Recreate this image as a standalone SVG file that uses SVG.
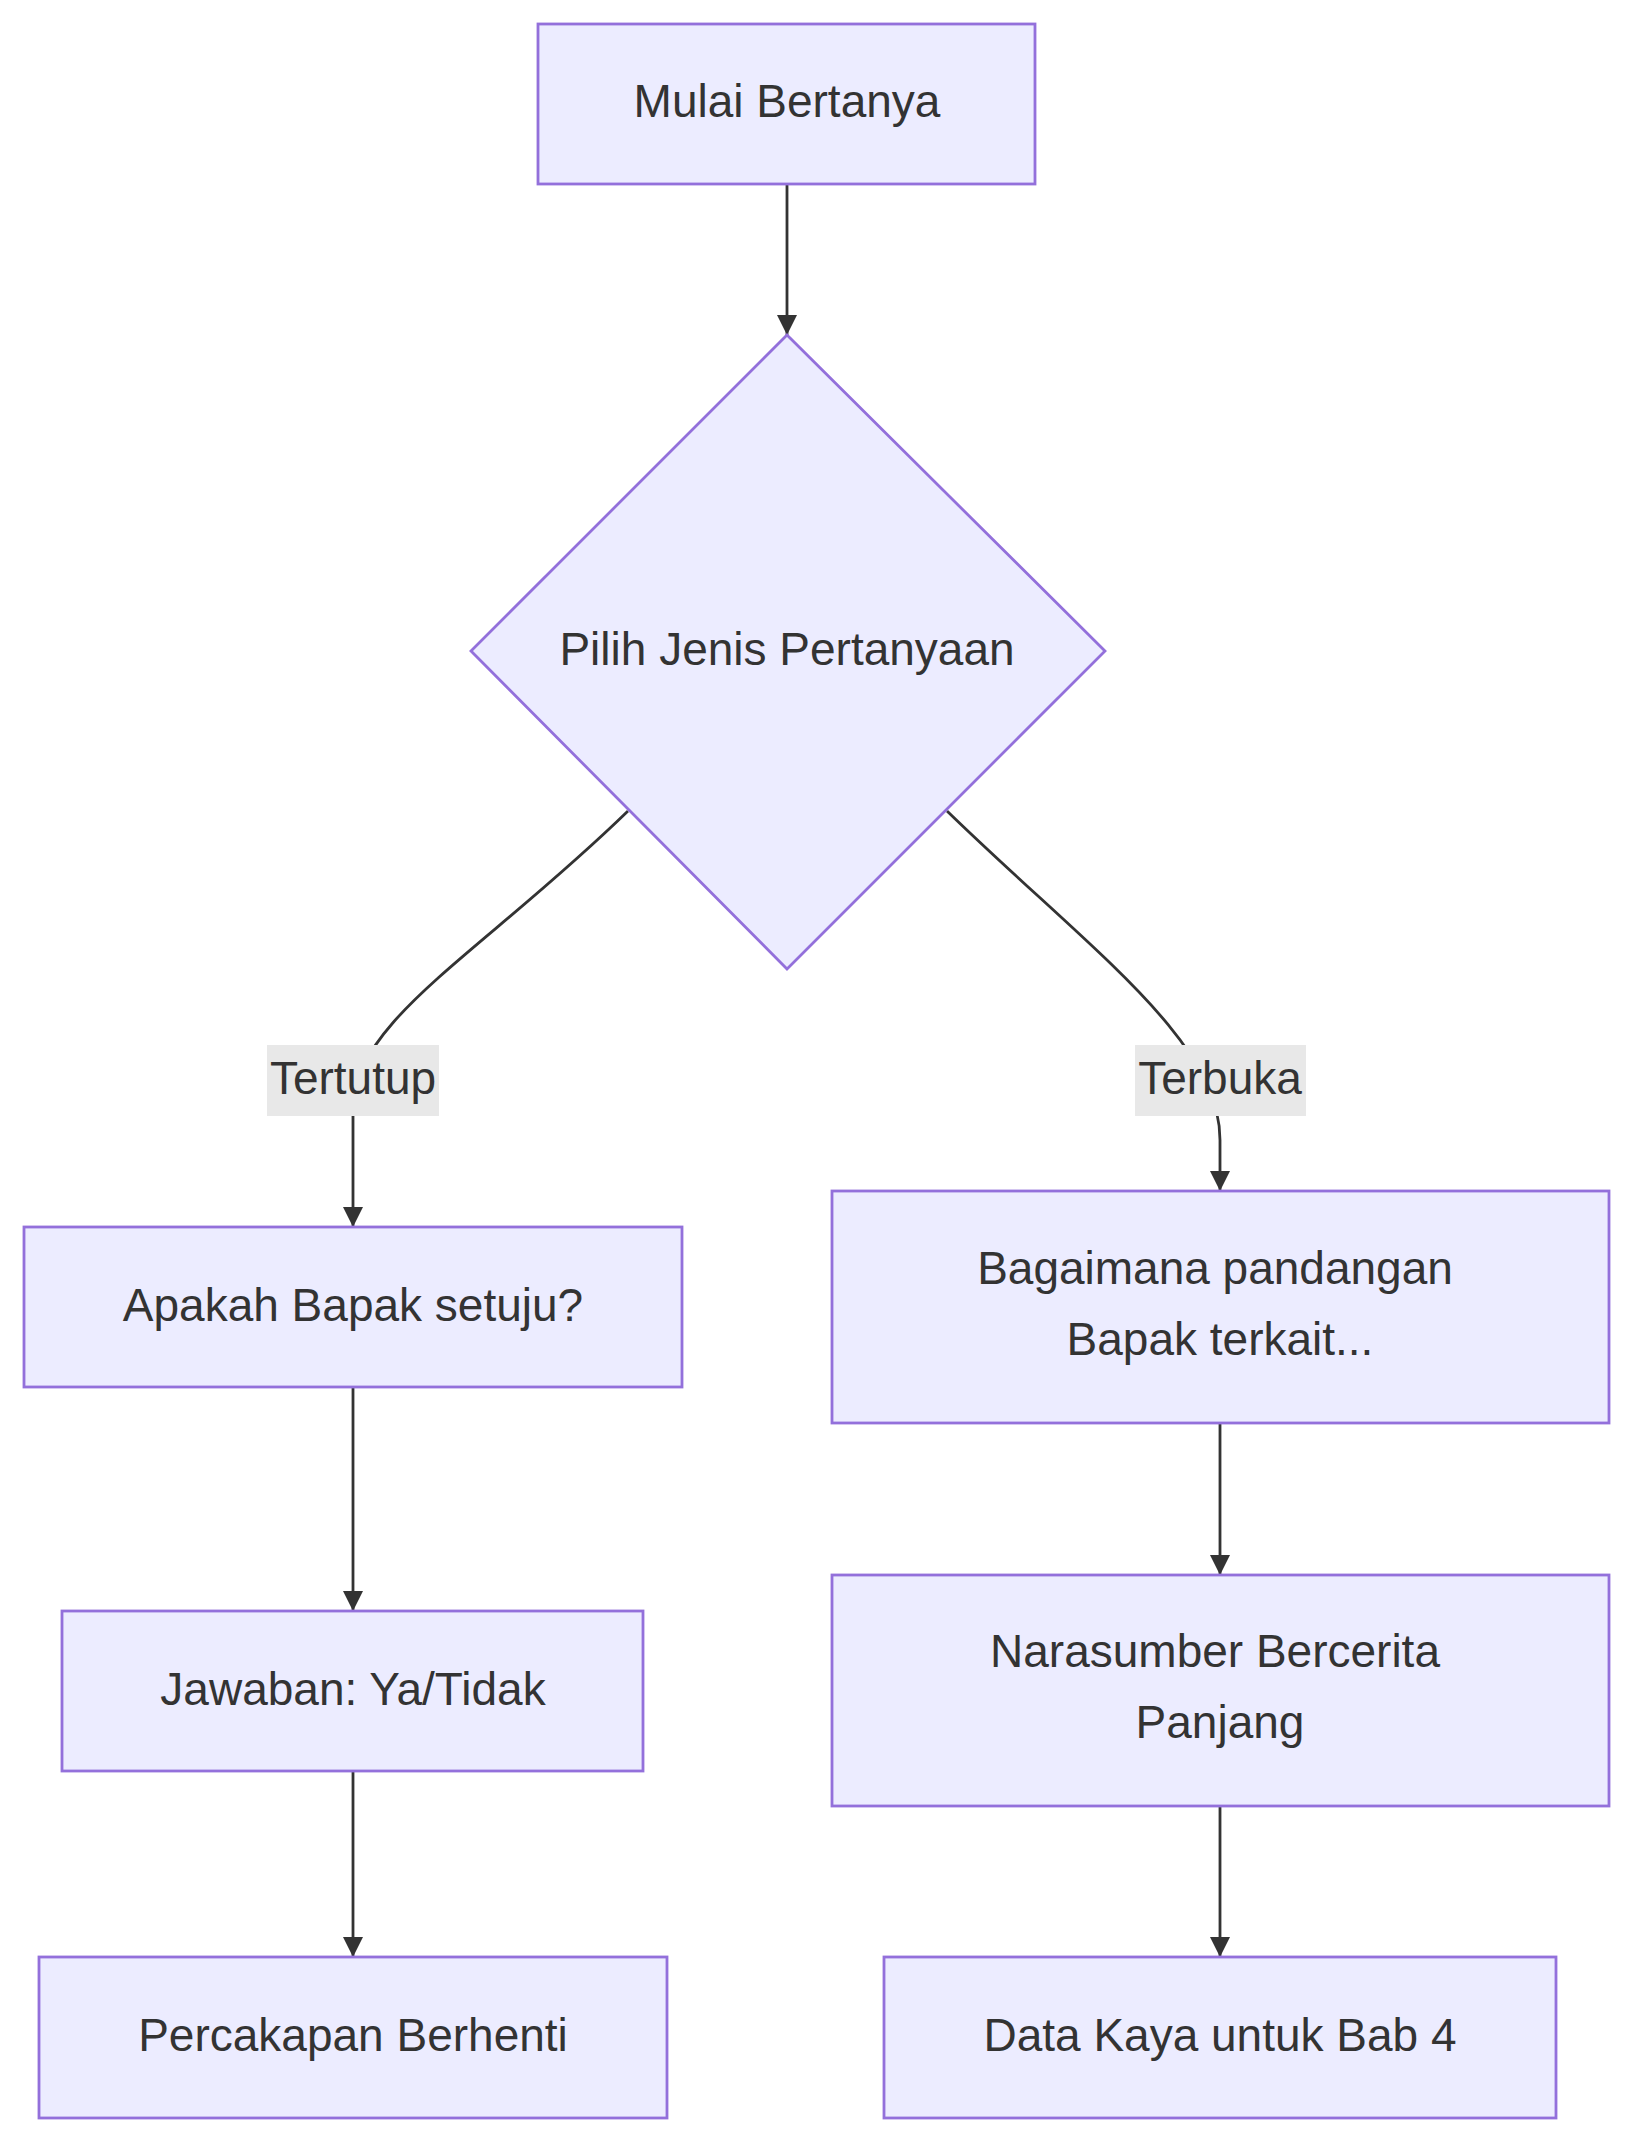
<svg xmlns="http://www.w3.org/2000/svg" width="1641" height="2151" viewBox="0 0 1641 2151">
<style>
.n{fill:#ECECFF;stroke:#9370DB;stroke-width:2.8}
.t{font-family:"Liberation Sans",Arial,sans-serif;font-size:46px;fill:#333;text-anchor:middle;dominant-baseline:central}
.e{fill:none;stroke:#333;stroke-width:2.8}
.lb{fill:#e8e8e8}
</style>
<defs><marker id="a" viewBox="0 0 10 10" refX="9" refY="5" markerWidth="8" markerHeight="8" markerUnits="userSpaceOnUse" orient="auto"><path d="M0,0L10,5L0,10z" fill="#333"/></marker>
<marker id="m" viewBox="0 0 10 10" refX="10" refY="5" markerWidth="20" markerHeight="20" markerUnits="userSpaceOnUse" orient="auto"><path d="M0,0L10,5L0,10z" fill="#333"/></marker></defs>
<g id="edges">
<path class="e" marker-end="url(#m)" d="M787,184L787,335"/>
<path class="e" marker-end="url(#m)" d="M628,811C480,955 353,1020 353,1110L353,1227"/>
<path class="e" marker-end="url(#m)" d="M947,811C1090,950 1220,1040 1220,1140L1220,1191"/>
<path class="e" marker-end="url(#m)" d="M353,1387L353,1611"/>
<path class="e" marker-end="url(#m)" d="M353,1771L353,1957"/>
<path class="e" marker-end="url(#m)" d="M1220,1423L1220,1575"/>
<path class="e" marker-end="url(#m)" d="M1220,1806L1220,1957"/>
<rect class="lb" x="267" y="1045" width="172" height="71"/><text class="t" x="353" y="1078">Tertutup</text>
<rect class="lb" x="1135" y="1045" width="171" height="71"/><text class="t" x="1220" y="1078">Terbuka</text>
</g>
<g id="n1"><rect class="n" x="538" y="24" width="497" height="160"/><text class="t" x="787" y="101">Mulai Bertanya</text></g>
<g id="n2"><path class="n" d="M787,335L1105,651L787,969L471,651Z"/><text class="t" x="787" y="649">Pilih Jenis Pertanyaan</text></g>
<g id="n3"><rect class="n" x="24" y="1227" width="658" height="160"/><text class="t" x="353" y="1305">Apakah Bapak setuju?</text></g>
<g id="n4"><rect class="n" x="832" y="1191" width="777" height="232"/><text class="t" x="1215" y="1268">Bagaimana pandangan</text><text class="t" x="1220" y="1339">Bapak terkait...</text></g>
<g id="n5"><rect class="n" x="62" y="1611" width="581" height="160"/><text class="t" x="353" y="1689">Jawaban: Ya/Tidak</text></g>
<g id="n6"><rect class="n" x="832" y="1575" width="777" height="231"/><text class="t" x="1215" y="1651">Narasumber Bercerita</text><text class="t" x="1220" y="1722">Panjang</text></g>
<g id="n7"><rect class="n" x="39" y="1957" width="628" height="161"/><text class="t" x="353" y="2035">Percakapan Berhenti</text></g>
<g id="n8"><rect class="n" x="884" y="1957" width="672" height="161"/><text class="t" x="1220" y="2035">Data Kaya untuk Bab 4</text></g>
</svg>
